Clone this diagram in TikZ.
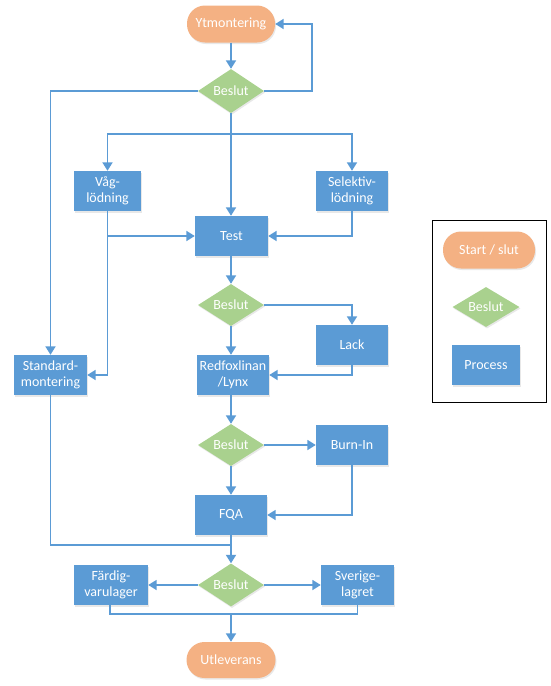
\documentclass[tikz,border=0pt]{standalone}
\usepackage{fontspec}
\setmainfont{Carlito}
\usetikzlibrary{shapes.geometric,arrows.meta,shadows}
\definecolor{termc}{HTML}{F4B183}
\definecolor{decc}{HTML}{A9D18E}
\definecolor{procc}{HTML}{5B9BD5}
\definecolor{linec}{HTML}{5B9BD5}
\tikzset{
  base/.style={text=white, font=\fontsize{14}{16}\selectfont, align=center, inner sep=0pt,
    drop shadow={opacity=0.18, shadow xshift=1pt, shadow yshift=-1.5pt}},
  term/.style={base, rectangle, rounded corners=18pt, fill=termc, minimum width=88pt, minimum height=37pt},
  dec/.style={base, diamond, aspect=1.5, fill=decc, minimum width=66pt, minimum height=44pt},
  proc/.style={base, rectangle, fill=procc, minimum width=72pt, minimum height=40pt},
  conn/.style={draw=linec, line width=1.8pt},
  arr/.style={conn, -{Triangle[width=10pt,length=8.5pt]}},
  legframe/.style={draw=black, line width=0.8pt, minimum width=114pt, minimum height=182pt, inner sep=0pt}
}
\begin{document}
\begin{tikzpicture}[x=1pt,y=-1pt]
\useasboundingbox (0,0) rectangle (550,686);
% legend
\node[legframe] (leg) at (489,311) {};
\node[term, minimum width=92pt] (lt) at (489,250) {Start / slut};
\node[dec, minimum width=67pt, minimum height=40pt] (ld) at (486,307) {Beslut};
\node[proc, minimum width=68pt] (lp) at (486,365) {Process};
% nodes
\node[term] (yt) at (231,24) {Ytmontering};
\node[dec] (d1) at (231,91) {Beslut};
\node[proc, minimum width=67pt] (vag) at (107.5,191) {Våg-\\lödning};
\node[proc] (sel) at (352,191) {Selektiv-\\lödning};
\node[proc, minimum width=73pt] (test) at (231.5,236) {Test};
\node[dec, minimum height=42pt] (d2) at (231,305) {Beslut};
\node[proc] (lack) at (352,345) {Lack};
\node[proc] (red) at (233,375) {Redfoxlinan\\/Lynx};
\node[proc, minimum width=73pt] (std) at (50.5,375) {Standard-\\montering};
\node[dec, minimum height=42pt] (d3) at (231,445) {Beslut};
\node[proc] (burn) at (352,445) {Burn-In};
\node[proc] (fqa) at (231,515) {FQA};
\node[dec, minimum height=43pt] (d4) at (231,585) {Beslut};
\node[proc, minimum width=74pt] (fard) at (111,585) {Färdig-\\varulager};
\node[proc, minimum width=73pt] (sve) at (357.5,585) {Sverige-\\lagret};
\node[term, minimum width=89pt, minimum height=36pt] (utl) at (231,660) {Utleverans};
% helper coordinates
\coordinate (loopc) at (312,24);
\coordinate (br) at (231,134);
\coordinate (j1) at (231,545);
\coordinate (j2) at (231,614);
% connectors
\draw[arr] (yt) -- (d1);
\draw[arr] (d1.east) -| (loopc) -- (yt.east);
\draw[arr] (d1.west) -| (std.north);
\draw[arr] (d1.south) -- (test.north -| d1.south);
\draw[arr] (br) -| (vag.north);
\draw[arr] (br) -| (sel.north);
\draw[arr] (vag.south) |- (test.west);
\draw[arr] (vag.south) |- (std.east);
\draw[arr] (sel.south) |- (test.east);
\draw[arr] (test.south -| d2.north) -- (d2.north);
\draw[arr] (d2.east) -| (lack.north);
\draw[arr] (d2.south) -- (red.north -| d2.south);
\draw[arr] (lack.south) |- (red.east);
\draw[arr] (red.south -| d3.north) -- (d3.north);
\draw[arr] (d3.east) -- (burn.west);
\draw[arr] (d3.south) -- (fqa.north);
\draw[arr] (burn.south) |- (fqa.east);
\draw[conn] (std.south) |- (j1);
\draw[arr] (fqa.south) -- (d4.north);
\draw[arr] (d4.west) -- (fard.east);
\draw[arr] (d4.east) -- (sve.west);
\draw[conn] (fard.south -| 110,0) |- (j2);
\draw[conn] (sve.south) |- (j2);
\draw[arr] (j2) -- (utl.north);
\end{tikzpicture}
\end{document}
